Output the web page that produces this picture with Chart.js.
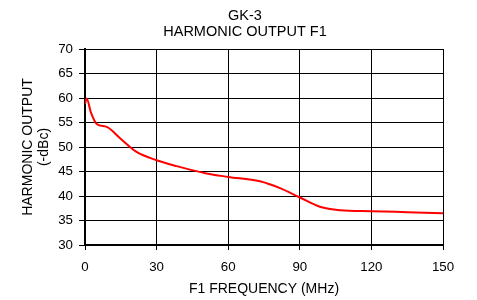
<!DOCTYPE html>
<html>
<head>
<meta charset="utf-8">
<script src="https://cdn.jsdelivr.net/npm/chart.js@4/dist/chart.umd.min.js"></script>
<style>
  html, body { margin: 0; padding: 0; background: #fff; }
  #harmonicChart { display: block; }
</style>
</head>
<body>
<canvas id="harmonicChart" width="477" height="300"></canvas>
<script>
// values
const freqMHz = [0, 0.7, 2.5, 4.9, 9.1, 14.7, 21.6, 30, 38.4, 50.9, 60, 73.3, 81.7, 90, 98.4, 106.8, 120, 135, 150];
const outputDbc = [58.8, 59.9, 57.0, 54.7, 54.1, 51.8, 49.0, 47.3, 46.1, 44.6, 43.9, 43.0, 41.6, 39.7, 37.8, 37.1, 36.9, 36.7, 36.5];
const titleLines = ["GK-3", "HARMONIC OUTPUT F1"];
const xTitle = "F1 FREQUENCY (MHz)";
const yTitleLines = ["HARMONIC OUTPUT", "(-dBc)"];

document.addEventListener("DOMContentLoaded", function () {
    Chart.defaults.font.family = "'Liberation Sans', Arial, sans-serif";
    Chart.defaults.color = "#000";

    new Chart(document.getElementById('harmonicChart').getContext('2d'), {
        type: 'line',
        data: {
            datasets: [{
                data: freqMHz.map((f, i) => ({ x: f, y: outputDbc[i] })),
                borderColor: "#ff0000",
                borderWidth: 2,
                pointRadius: 0,
                fill: false,
                cubicInterpolationMode: 'monotone'
            }]
        },
        options: {
            responsive: false,
            animation: false,
            // left padding shifts the title centre to where the reference has it
            layout: { padding: { left: 13, right: 0, top: 0, bottom: 0 } },
            plugins: {
                legend: { display: false },
                tooltip: { enabled: false },
                title: {
                    display: true,
                    text: titleLines,
                    font: { size: 14.5, weight: 'normal', lineHeight: 1.1 },
                    padding: { top: 8.3, bottom: 8.8 }
                }
            },
            scales: {
                x: {
                    type: 'linear',
                    min: 0,
                    max: 150,
                    afterFit: s => { s.height = 55; },
                    ticks: { stepSize: 30, font: { size: 13.3 }, padding: 9, maxRotation: 0 },
                    grid: { color: "#000", lineWidth: 1, tickLength: 5 },
                    border: { color: "#000", width: 2 },
                    title: {
                        display: true,
                        text: xTitle,
                        font: { size: 14, lineHeight: 1.18 },
                        padding: { top: 0, bottom: 3 }
                    }
                },
                y: {
                    min: 30,
                    max: 70,
                    afterFit: s => { s.width = 72; },
                    ticks: { stepSize: 5, font: { size: 13.3 }, padding: 6 },
                    grid: { color: "#000", lineWidth: 1, tickLength: 6 },
                    border: { color: "#000", width: 2 },
                    title: {
                        display: true,
                        text: yTitleLines,
                        font: { size: 14, lineHeight: 1.18 },
                        padding: { top: 6.7, bottom: 0 }
                    }
                },
                // empty spacer on the right so the plot ends at 150 MHz like the reference
                spacer: {
                    type: 'linear',
                    position: 'right',
                    afterFit: s => { s.width = 34; },
                    ticks: { display: false },
                    grid: { display: false, drawTicks: false },
                    border: { display: false }
                }
            }
        }
    });
});
</script>
</body>
</html>
